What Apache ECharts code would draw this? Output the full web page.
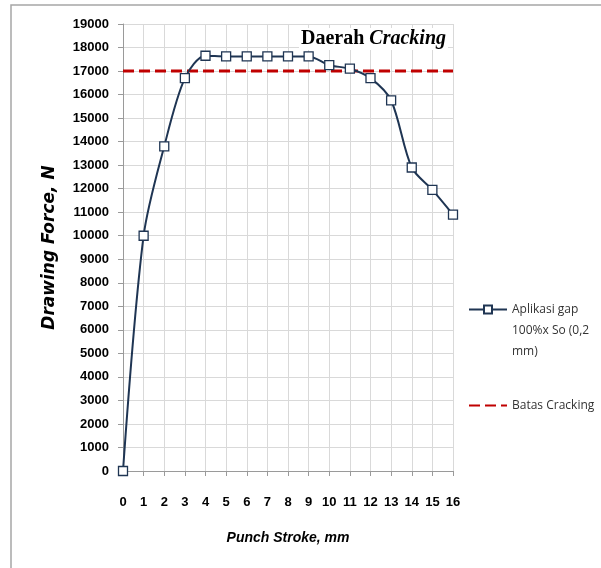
<!DOCTYPE html>
<html><head><meta charset="utf-8">
<script src="https://cdn.jsdelivr.net/npm/echarts@6/dist/echarts.min.js"></script>
<style>html,body{margin:0;padding:0;background:#fff}#c{width:601px;height:568px}</style>
</head><body><div id="c"></div>
<script>
const stroke = [0,1,2,3,4,5,6,7,8,9,10,11,12,13,14,15,16];
const force = [0,10000,13800,16700,17650,17620,17620,17620,17620,17620,17250,17100,16700,15750,12900,11950,10900];
const limitX = [0,16];
const limitY = [17000,17000];
const seriesNames = ['Aplikasi gap 100%x So (0,2 mm)','Batas Cracking'];

const chart = echarts.init(document.getElementById('c'));
chart.setOption({
  animation:false,
  grid:{left:123,right:148,top:24,bottom:97},
  xAxis:{type:'value',min:0,max:16,interval:1,
    name:'Punch Stroke, mm',nameLocation:'middle',nameGap:60,
    nameTextStyle:{fontFamily:'Liberation Sans',fontWeight:'bold',fontStyle:'italic',fontSize:14,color:'#000'},
    axisLine:{lineStyle:{color:'#9a9a9a'}},
    axisTick:{show:true,length:5,lineStyle:{color:'#9a9a9a'}},
    axisLabel:{margin:25,fontFamily:'Liberation Sans',fontWeight:'bold',fontSize:13,color:'#000'},
    splitLine:{show:true,lineStyle:{color:'#d9d9d9'}}},
  yAxis:{type:'value',min:0,max:19000,interval:1000,
    name:'Drawing Force, N',nameLocation:'middle',nameGap:65,
    nameTextStyle:{fontFamily:'DejaVu Sans',fontWeight:'bold',fontStyle:'italic',fontSize:17,color:'#000'},
    axisLine:{show:true,lineStyle:{color:'#9a9a9a'}},
    axisTick:{show:true,length:5,lineStyle:{color:'#9a9a9a'}},
    axisLabel:{margin:14,formatter:v=>String(v),fontFamily:'Liberation Sans',fontWeight:'bold',fontSize:13,color:'#000'},
    splitLine:{show:true,lineStyle:{color:'#d9d9d9'}}},
  legend:[
    {data:[seriesNames[0]],orient:'vertical',left:463,top:252,itemWidth:38,itemHeight:10,itemGap:6,
     formatter:()=>'\n\nAplikasi gap\n100%x So (0,2\nmm)',
     textStyle:{fontFamily:'Open Sans',fontSize:12,color:'#333',lineHeight:21}},
    {data:[{name:seriesNames[1],itemStyle:{opacity:0}}],orient:'vertical',left:463,top:390,itemWidth:38,itemHeight:10,
     textStyle:{fontFamily:'Open Sans',fontSize:12,color:'#333',lineHeight:21}}
  ],
  graphic:[
    {type:'rect',shape:{x:11,y:5,width:620,height:600},style:{fill:'none',stroke:'#a6a6a6',lineWidth:1.5},silent:true},
    {type:'text',right:601-448,top:28,z:10,style:{
      backgroundColor:'#fff',padding:[1,2],
      rich:{a:{fontFamily:'Liberation Serif',fontWeight:'bold',fontSize:20,fill:'#000'},
            b:{fontFamily:'Liberation Serif',fontWeight:'bold',fontStyle:'italic',fontSize:20,fill:'#000'}},
      text:'{a|Daerah }{b|Cracking}'}}
  ],
  series:[
    {name:seriesNames[0],type:'line',smooth:0.3,data:stroke.map((x,i)=>[x,force[i]]),
     symbol:'rect',symbolSize:9,
     lineStyle:{color:'#1f3553',width:2},
     itemStyle:{color:'#ffffff',borderColor:'#1f3553',borderWidth:1.3},z:3},
    {name:seriesNames[1],type:'line',data:limitX.map((x,i)=>[x,limitY[i]]),
     symbol:'none',lineStyle:{color:'#c00000',width:3,type:[11,5]},itemStyle:{color:'#c00000'},z:2}
  ]
});
</script></body></html>
